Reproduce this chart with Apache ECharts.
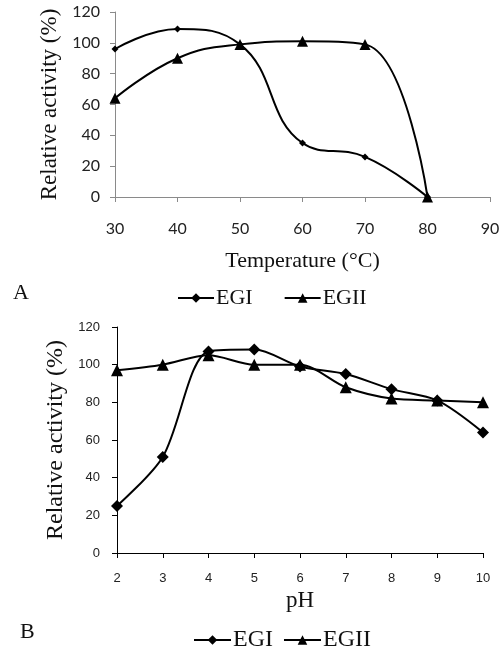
<!DOCTYPE html>
<html><head><meta charset="utf-8">
<script src="https://cdn.jsdelivr.net/npm/echarts@6/dist/echarts.min.js"></script>
<style>html,body{margin:0;padding:0;background:#fff}#c{width:504px;height:648px}</style>
</head><body><div id="c"></div>
<script>
// Panel A: temperature
const tempX = [30, 40, 50, 60, 70, 80];
const tempEGI = [96, 109, 99, 35, 26, 0];
const tempEGII = [64, 90, 99, 101, 99, 0];
// Panel B: pH
const phX = [2, 3, 4, 5, 6, 7, 8, 9, 10];
const phEGI = [25, 51, 107, 108, 99, 95, 87, 81, 64];
const phEGII = [97, 100, 105, 100, 100, 88, 82, 81, 80];

const pair = (xs, ys) => xs.map((x, i) => [x, ys[i]]);
const serif = '"Liberation Serif","DejaVu Serif",serif';
const chart = echarts.init(document.getElementById('c'), null, {renderer: 'canvas'});
chart.setOption({
  animation: false,
  backgroundColor: '#fff',
  grid: [
    {left: 115, top: 12, width: 375, height: 185},
    {left: 117, top: 327, width: 366, height: 226}
  ],
  xAxis: [
    {gridIndex: 0, type: 'value', min: 30, max: 90, interval: 10,
     name: 'Temperature (°C)', nameLocation: 'middle', nameGap: 53,
     nameTextStyle: {fontFamily: serif, fontSize: 22, color: '#111'},
     axisLine: {lineStyle: {color: '#8a8a8a', width: 1}},
     axisTick: {show: true, length: 5, lineStyle: {color: '#8a8a8a'}},
     axisLabel: {margin: 24, fontFamily: 'Lato', fontSize: 16, color: '#222'},
     splitLine: {show: false}},
    {gridIndex: 1, type: 'value', min: 2, max: 10, interval: 1,
     name: 'pH', nameLocation: 'middle', nameGap: 36,
     nameTextStyle: {fontFamily: serif, fontSize: 23, color: '#111'},
     axisLine: {lineStyle: {color: '#000', width: 1}},
     axisTick: {show: true, length: 5, lineStyle: {color: '#000'}},
     axisLabel: {margin: 19, fontFamily: '"Liberation Sans",Arial', fontSize: 13, color: '#222'},
     splitLine: {show: false}}
  ],
  yAxis: [
    {gridIndex: 0, type: 'value', min: 0, max: 120, interval: 20,
     name: 'Relative activity (%)', nameLocation: 'middle', nameGap: 53,
     nameTextStyle: {fontFamily: serif, fontSize: 23, color: '#111'},
     axisLine: {show: true, lineStyle: {color: '#8a8a8a', width: 1}},
     axisTick: {show: true, length: 5, lineStyle: {color: '#8a8a8a'}},
     axisLabel: {margin: 15, fontFamily: 'Lato', fontSize: 16, color: '#222'},
     splitLine: {show: false}},
    {gridIndex: 1, type: 'value', min: 0, max: 120, interval: 20,
     name: 'Relative activity (%)', nameLocation: 'middle', nameGap: 47,
     nameTextStyle: {fontFamily: serif, fontSize: 24, color: '#111'},
     axisLine: {show: true, lineStyle: {color: '#000', width: 1}},
     axisTick: {show: true, length: 5, lineStyle: {color: '#000'}},
     axisLabel: {margin: 17, fontFamily: '"Liberation Sans",Arial', fontSize: 13, color: '#222'},
     splitLine: {show: false}}
  ],
  legend: [
    {data: ['EGI', 'EGII'], left: 172, top: 282, itemWidth: 36, itemHeight: 12, itemGap: 31,
     textStyle: {fontFamily: serif, fontSize: 22, color: '#111', padding: [0,0,0,-3]}},
    {data: ['EGI ', 'EGII '], left: 188, top: 623, itemWidth: 37, itemHeight: 12, itemGap: 4,
     textStyle: {fontFamily: serif, fontSize: 24, color: '#111', padding: [0,0,0,-3]}}
  ],
  graphic: [
    {type: 'text', left: 13, top: 282, style: {text: 'A', font: '22px ' + serif, fill: '#111'}},
    {type: 'text', left: 20, top: 621, style: {text: 'B', font: '22px ' + serif, fill: '#111'}}
  ],
  series: [
    {name: 'EGI', type: 'line', xAxisIndex: 0, yAxisIndex: 0, data: pair(tempX, tempEGI),
     smooth: 0.45, symbol: 'diamond', symbolSize: 7,
     lineStyle: {color: '#000', width: 2}, itemStyle: {color: '#000'}},
    {name: 'EGII', type: 'line', xAxisIndex: 0, yAxisIndex: 0, data: pair(tempX, tempEGII),
     smooth: 0.45, symbol: 'triangle', symbolSize: 11,
     lineStyle: {color: '#000', width: 2}, itemStyle: {color: '#000'}},
    {name: 'EGI ', type: 'line', xAxisIndex: 1, yAxisIndex: 1, data: pair(phX, phEGI),
     smooth: 0.3, symbol: 'diamond', symbolSize: 12,
     lineStyle: {color: '#000', width: 2}, itemStyle: {color: '#000'}},
    {name: 'EGII ', type: 'line', xAxisIndex: 1, yAxisIndex: 1, data: pair(phX, phEGII),
     smooth: 0.3, symbol: 'triangle', symbolSize: 12,
     lineStyle: {color: '#000', width: 2}, itemStyle: {color: '#000'}}
  ]
});
</script></body></html>
